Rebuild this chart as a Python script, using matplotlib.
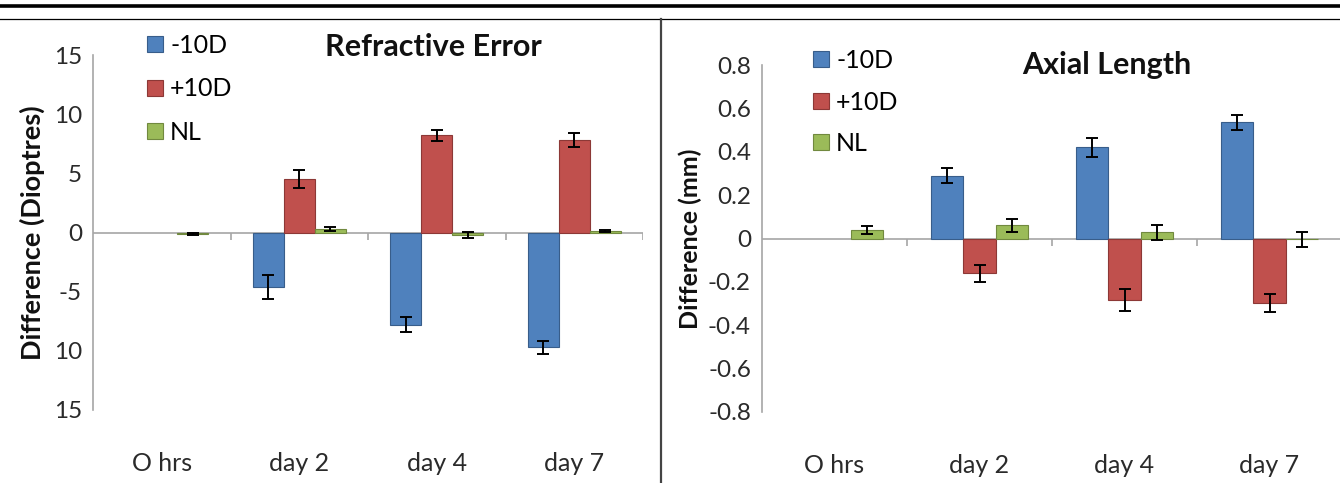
import numpy as np
import matplotlib
matplotlib.use("Agg")
import matplotlib.pyplot as plt
from matplotlib.lines import Line2D

plt.rcParams['font.family'] = ['Lato', 'DejaVu Sans']

categories = ["O hrs", "day 2", "day 4", "day 7"]
series = ["-10D", "+10D", "NL"]

# Refractive error (Dioptres)
re_minus10 = [np.nan, -4.6, -7.8, -9.7]
re_minus10_err = [np.nan, 1.0, 0.65, 0.55]
re_plus10 = [np.nan, 4.5, 8.2, 7.85]
re_plus10_err = [np.nan, 0.75, 0.5, 0.6]
re_nl = [-0.15, 0.3, -0.2, 0.15]
re_nl_err = [0.1, 0.15, 0.25, 0.1]
re_ticks = [15, 10, 5, 0, -5, -10, -15]
re_ticklabels = ["15", "10", "5", "0", "-5", "10", "15"]

# Axial length (mm)
al_minus10 = [np.nan, 0.29, 0.42, 0.535]
al_minus10_err = [np.nan, 0.033, 0.045, 0.035]
al_plus10 = [np.nan, -0.16, -0.285, -0.298]
al_plus10_err = [np.nan, 0.04, 0.05, 0.04]
al_nl = [0.04, 0.06, 0.028, -0.003]
al_nl_err = [0.018, 0.03, 0.035, 0.035]
al_ticks = [0.8, 0.6, 0.4, 0.2, 0, -0.2, -0.4, -0.6, -0.8]
al_ticklabels = ["0.8", "0.6", "0.4", "0.2", "0", "-0.2", "-0.4", "-0.6", "-0.8"]

colors = ["#4F81BD", "#C0504D", "#9BBB59"]
edges = ["#385D8A", "#8C3836", "#71893F"]

W, H = 1340, 483
fig = plt.figure(figsize=(W / 100, H / 100), dpi=100)

def px_axes(x0, x1, ytop, ybot):
    return fig.add_axes([x0 / W, (H - ybot) / H, (x1 - x0) / W, (ybot - ytop) / H])

def draw(ax, vals, errs, ylim, ticks, ticklabels, title, ylabel, ylab_size,
         title_xy, leg_xy, ylab_x, leg_spacing):
    x = np.arange(len(categories))
    bw = 0.225
    offs = [-bw, 0, bw]
    handles = []
    for i in range(3):
        b = ax.bar(x + offs[i], vals[i], bw, color=colors[i], edgecolor=edges[i],
                   linewidth=0.8, zorder=3, label=series[i])
        ax.errorbar(x + offs[i], vals[i], yerr=errs[i], fmt='none', ecolor='black',
                    elinewidth=1.4, capsize=4, capthick=1.4, zorder=4)
        handles.append(b)
    ax.set_xlim(-0.5, len(categories) - 0.5)
    ax.set_ylim(*ylim)
    ax.axhline(0, color='#a6a6a6', lw=1.2, zorder=2)
    tl = (ylim[1] - ylim[0]) * 0.022
    ax.vlines(np.arange(0.5, len(categories) - 0.5 + 0.01, 1.0), -tl, 0,
              color='#a6a6a6', lw=1.2, zorder=2)
    for s in ['top', 'right', 'bottom']:
        ax.spines[s].set_visible(False)
    ax.spines['left'].set_color('#a6a6a6')
    ax.spines['left'].set_linewidth(1.2)
    ax.set_yticks(ticks)
    ax.set_yticklabels(ticklabels)
    ax.tick_params(axis='y', length=0, pad=8, labelsize=17.5, labelcolor='#2a2a2a')
    ax.set_xticks(x)
    ax.set_xticklabels(categories)
    ax.tick_params(axis='x', length=0, pad=30, labelsize=18, labelcolor='#2a2a2a')
    ax.set_ylabel(ylabel, fontsize=ylab_size, fontweight='bold', color='#111111',
                  va='center')
    ax.yaxis.set_label_coords(ylab_x, 0.5)
    fig.text(title_xy[0] / W, 1 - title_xy[1] / H, title, fontsize=22,
             fontweight='bold', ha='left', va='center', color='#111111')
    ax.legend(handles=handles, loc='upper left',
              bbox_to_anchor=(leg_xy[0] / W, 1 - leg_xy[1] / H),
              bbox_transform=fig.transFigure, frameon=False, fontsize=18,
              handlelength=0.62, handleheight=0.62, handletextpad=0.3,
              labelspacing=leg_spacing, borderaxespad=0, borderpad=0)

ax1 = px_axes(93, 643, 55, 410)
draw(ax1, [re_minus10, re_plus10, re_nl], [re_minus10_err, re_plus10_err, re_nl_err],
     (-15, 15), re_ticks, re_ticklabels, "Refractive Error", "Difference (Dioptres)", 19.5,
     (325, 47), (147, 34), (32 - 93) / 550, 0.82)

ax2 = px_axes(762, 1342, 65, 412)
draw(ax2, [al_minus10, al_plus10, al_nl], [al_minus10_err, al_plus10_err, al_nl_err],
     (-0.8, 0.8), al_ticks, al_ticklabels, "Axial Length", "Difference (mm)", 18,
     (1022, 65), (813, 49), (690 - 762) / 580, 0.74)

# frame lines
fig.add_artist(Line2D([0, 1], [1 - 5.5 / H, 1 - 5.5 / H], transform=fig.transFigure,
                      color='black', lw=2.6))
fig.add_artist(Line2D([0, 1], [1 - 19 / H, 1 - 19 / H], transform=fig.transFigure,
                      color='black', lw=0.9))
fig.add_artist(Line2D([661 / W, 661 / W], [0, 1 - 19 / H], transform=fig.transFigure,
                      color='#444444', lw=1.6))

fig.savefig("out.png", dpi=100)
